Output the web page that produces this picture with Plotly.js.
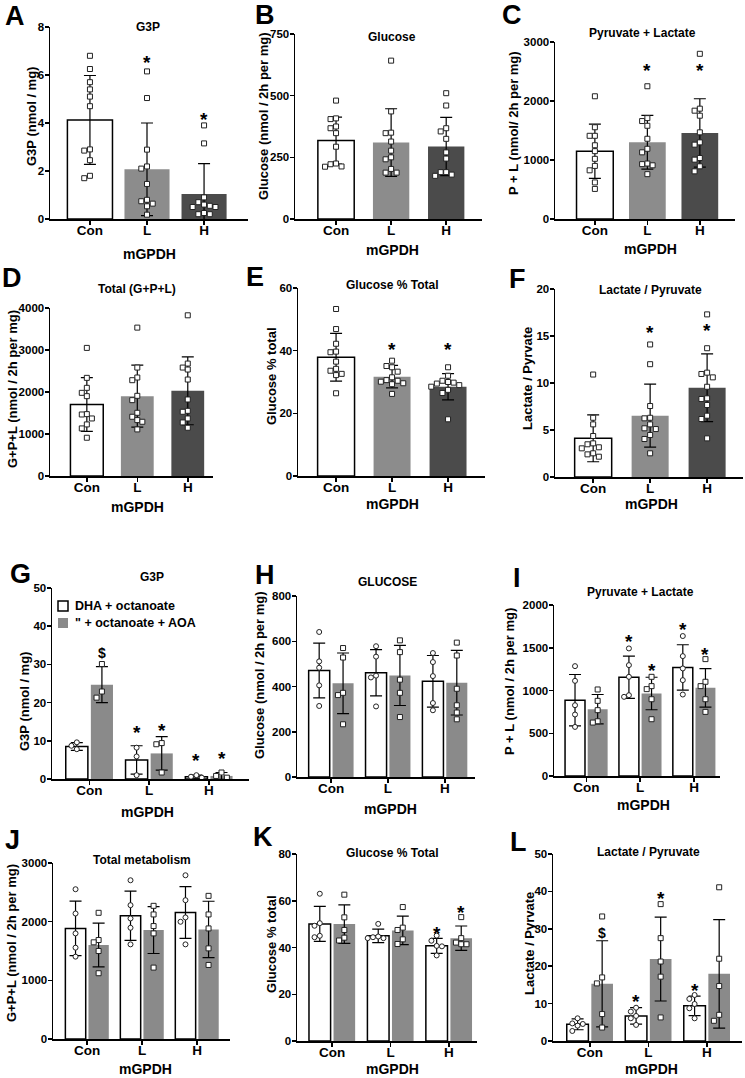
<!DOCTYPE html>
<html>
<head>
<meta charset="utf-8">
<script src="https://cdn.plot.ly/plotly-3.0.1.min.js"></script>
<style>body{margin:0;background:#fff}#graph{width:745px;height:1078px}</style>
</head>
<body>
<div id="graph"></div>
<script>
// groups on every x axis
const groups = ['Con', 'L', 'H'];

// ---- top half: one bar per group, mean +/- SD with individual points ----
// A  G3P
const aMean = [4.13, 2.07, 1.04];
const aSD = [1.85, 1.93, 1.27];
const aPts = [
  [6.8, 6.25, 5.7, 5.4, 5.1, 4.7, 2.9, 2.85, 2.45, 1.8, 1.7],
  [6.15, 5.04, 2.89, 2.19, 2.1, 1.46, 0.8, 0.74, 0.64, 0.53, 0.18],
  [3.9, 3.15, 0.9, 0.7, 0.6, 0.55, 0.5, 0.5, 0.25, 0.2, 0.2]
];
const aStars = [null, 6.7, 4.3];

// B  Glucose
const bMean = [318, 310, 294];
const bSD = [95, 137, 118];
const bPts = [
  [480, 408, 405, 375, 368, 348, 293, 225, 222, 213, 212],
  [642, 436, 350, 348, 314, 277, 250, 242, 203, 188, 188],
  [510, 460, 368, 355, 325, 270, 245, 190, 190, 180, 175]
];
const bStars = [null, null, null];

// C  Pyruvate + Lactate
const cMean = [1147, 1300, 1458];
const cSD = [460, 455, 580];
const cPts = [
  [2080, 1555, 1410, 1410, 1250, 1150, 1020, 900, 825, 620, 510],
  [2250, 1710, 1660, 1580, 1360, 1190, 1130, 940, 930, 910, 760],
  [2800, 1870, 1836, 1751, 1469, 1299, 1260, 1034, 1006, 893, 808]
];
const cStars = [null, 2588, 2588];

// D  Total (G+P+L)
const dMean = [1703, 1901, 2028];
const dSD = [640, 737, 808];
const dPts = [
  [3050, 2337, 2099, 1980, 1901, 1473, 1465, 1370, 1228, 1133, 911],
  [3533, 2582, 2345, 2281, 1909, 1806, 1505, 1410, 1331, 1291, 1109],
  [3826, 2677, 2582, 2535, 2297, 1822, 1552, 1529, 1370, 1275, 1149]
];
const dStars = [null, null, null];

// E  Glucose % Total
const eMean = [37.9, 31.7, 28.5];
const eSD = [7.6, 3.6, 4.2];
const ePts = [
  [53.3, 46.9, 42.2, 39.7, 39.5, 36.5, 34.2, 33.6, 32.6, 32.2, 26.4],
  [36.8, 35.1, 34.7, 33.3, 31.5, 30.6, 30.4, 30.1, 29.6, 29.3, 26.2],
  [34.7, 32.0, 30.4, 30.0, 29.8, 29.5, 29.0, 28.5, 27.5, 26.5, 18.1]
];
const eStars = [null, 41.6, 41.6];

// F  Lactate / Pyruvate
const fMean = [4.11, 6.52, 9.5];
const fSD = [2.49, 3.35, 3.6];
const fPts = [
  [10.9, 6.3, 5.6, 4.36, 3.58, 3.48, 3.16, 3.05, 2.52, 2.41, 2.16],
  [14.1, 12.0, 7.55, 6.3, 6.24, 5.6, 5.18, 5.1, 4.47, 4.04, 2.52],
  [17.3, 13.7, 11.1, 10.96, 10.6, 9.6, 8.37, 8.3, 7.66, 6.52, 6.17, 4.11]
];
const fStars = [null, 15.8, 16.0];

// ---- bottom half: DHA + octanoate (white) vs " + octanoate + AOA (grey) ----
const seriesNames = ['DHA + octanoate', '" + octanoate + AOA'];

// G  G3P
const gWhiteMean = [8.5, 5.0, 0.6];
const gWhiteSD = [1.0, 3.7, 0.4];
const gGreyMean = [24.7, 6.7, 0.8];
const gGreySD = [4.7, 4.4, 0.9];
const gWhitePts = [[9.6, 8.7, 7.8], [8.2, 5.9, 1.0], [1.0, 0.6, 0.35]];
const gGreyPts = [[30.1, 22.9, 21.3], [9.4, 9.1, 1.7], [1.7, 0.8, 0.35]];
const gWhiteMarks = [null, ['*', 13.3], ['*', 5.9]];
const gGreyMarks = [['$', 33], ['*', 13.7], ['*', 6.3]];

// H  GLUCOSE
const hWhiteMean = [471, 461, 423];
const hWhiteSD = [121, 102, 114];
const hGreyMean = [414, 449, 417];
const hGreySD = [134, 133, 143];
const hWhitePts = [[641, 511, 483, 405, 314], [578, 532, 448, 440, 312], [548, 508, 446, 327, 295]];
const hGreyPts = [[570, 528, 372, 362, 233], [604, 552, 430, 372, 265], [594, 537, 390, 317, 285, 255]];
const hWhiteMarks = [null, null, null];
const hGreyMarks = [null, null, null];

// I  Pyruvate + Lactate
const iWhiteMean = [887, 1156, 1270];
const iWhiteSD = [300, 247, 265];
const iGreyMean = [781, 965, 1031];
const iGreySD = [172, 190, 225];
const iWhitePts = [[1285, 1113, 828, 719, 574], [1492, 1297, 1160, 945, 926], [1637, 1402, 1258, 1121, 953]];
const iGreyPts = [[1012, 879, 770, 640, 625], [1160, 1051, 1016, 898, 664], [1367, 1102, 1051, 898, 750]];
const iWhiteMarks = [null, ['*', 1617], ['*', 1758]];
const iGreyMarks = [null, ['*', 1285], ['*', 1473]];

// J  Total metabolism
const jWhiteMean = [1885, 2100, 2156];
const jWhiteSD = [464, 420, 440];
const jGreyMean = [1602, 1857, 1868];
const jGreySD = [372, 400, 480];
const jWhitePts = [[2553, 2139, 1800, 1557, 1404], [2706, 2281, 2055, 1896, 1613], [2791, 2366, 2072, 1998, 1613]];
const jGreyPts = [[2151, 1687, 1648, 1500, 1121], [2270, 2123, 1925, 1800, 1217], [2440, 2123, 1885, 1545, 1262]];
const jWhiteMarks = [null, null, null];
const jGreyMarks = [null, null, null];

// K  Glucose % Total
const kWhiteMean = [50.1, 45.0, 40.7];
const kWhiteSD = [7.5, 2.9, 3.2];
const kGreyMean = [50.0, 47.3, 44.0];
const kGreySD = [8.2, 6.1, 5.2];
const kWhitePts = [[63, 50.4, 49.3, 45, 44.4], [50.1, 44.7, 44.4, 44, 44], [45.1, 42.9, 40.7, 40.5, 36.6]];
const kGreyPts = [[62.6, 52.9, 47.5, 44.2, 43.0], [57.3, 48.5, 47.5, 43.5, 41.5], [53, 44, 42.1, 41.4, 41.4]];
const kWhiteMarks = [null, null, ['*', 47.6]];
const kGreyMarks = [null, null, ['*', 56.9]];

// L  Lactate / Pyruvate
const lWhiteMean = [4.46, 6.7, 9.4];
const lWhiteSD = [1.45, 2.2, 2.6];
const lGreyMean = [15.3, 21.9, 17.95];
const lGreySD = [11.5, 11.2, 14.5];
const lWhitePts = [[6.07, 4.7, 4.55, 4.1, 2.68], [8.9, 7.86, 6.7, 6.07, 4.3], [12.3, 11.25, 9.9, 8.75, 6.07]];
const lGreyPts = [[33.3, 17, 15.4, 7.2, 3.6], [36.6, 27.5, 21.25, 17.2, 6.3], [41.1, 22, 14.7, 7, 5.4]];
const lWhiteMarks = [null, ['*', 11.6], ['*', 14.55]];
const lGreyMarks = [['$', 28.8], ['*', 39.3], null];

// ---------------------------------------------------------------------------
const W = 745, H = 1078;
const FONT = 'Liberation Sans, Arial, sans-serif';
const topColors = ['#ffffff', '#8c8c8c', '#4b4b4b'];
const GREY = '#8a8a8a';

const traces = [];
const annotations = [];
const shapes = [];
const layout = {
  width: W, height: H,
  margin: {l: 0, r: 0, t: 0, b: 0},
  paper_bgcolor: '#fff', plot_bgcolor: 'rgba(0,0,0,0)',
  showlegend: false,
  barmode: 'overlay',
  font: {family: FONT, color: '#000'},
  annotations: annotations,
  shapes: shapes
};

function txt(text, x, y, size, extra) {
  annotations.push(Object.assign({
    text: text, x: x / W, y: 1 - y / H, xref: 'paper', yref: 'paper',
    showarrow: false, xanchor: 'center', yanchor: 'middle',
    font: {family: FONT, size: size, color: '#000', weight: 700}
  }, extra || {}));
}

// spread points sideways so they don't sit on top of each other
function swarm(vals, span, step) {
  const placed = [];
  const tol = span * 0.032;
  return vals.map(v => {
    let off = 0;
    for (let k = 0; k < 15; k++) {
      off = (k % 2 ? -1 : 1) * Math.ceil(k / 2) * step;
      const hit = placed.some(p => Math.abs(p.v - v) < tol && Math.abs(p.o - off) < step * 0.9);
      if (!hit) break;
    }
    placed.push({v: v, o: off});
    return off;
  });
}

function makeAxes(n, p) {
  const s = n === 1 ? '' : String(n);
  layout['xaxis' + s] = {
    domain: [p.box[0] / W, p.box[1] / W], range: p.xr, anchor: 'y' + s,
    tickmode: 'array', tickvals: [0, 1, 2], ticktext: groups,
    showline: true, linecolor: '#000', linewidth: 1.5, ticks: 'outside', ticklen: 4,
    tickwidth: 1.5, tickcolor: '#000', showgrid: false, zeroline: false,
    ticklabelstandoff: -6,
    tickfont: {family: FONT, size: 13.5, color: '#000', weight: 700}
  };
  layout['yaxis' + s] = {
    domain: [1 - p.box[3] / H, 1 - p.box[2] / H], range: p.yr, anchor: 'x' + s,
    tick0: 0, dtick: p.dt,
    showline: true, linecolor: '#000', linewidth: 1.5, ticks: 'outside', ticklen: 4,
    tickwidth: 1.5, tickcolor: '#000', showgrid: false, zeroline: false,
    ticklabelstandoff: -2,
    tickfont: {family: FONT, size: 11.5, color: '#000', weight: 700}
  };
  txt(p.tag, p.lpos[0], p.lpos[1], 27);
  txt(p.title, p.tpos[0], p.tpos[1], 12);
  txt(p.ytitle, p.ypos[0], p.ypos[1], 13, {textangle: -90});
  txt('mGPDH', p.xl[0], p.xl[1], 14);
  return {x: 'x' + s, y: 'y' + s};
}

function addMark(ax, x, y, sym) {
  annotations.push({
    text: sym, x: x, y: y, xref: ax.x, yref: ax.y, showarrow: false,
    yanchor: 'middle', yshift: sym === '*' ? -4 : 0,
    font: {family: FONT, size: sym === '*' ? 19 : 14, color: '#000', weight: 700}
  });
}

function singlePanel(n, p, mean, sd, pts, stars) {
  const ax = makeAxes(n, p);
  traces.push({
    type: 'bar', x: [0, 1, 2], y: mean, width: p.w, xaxis: ax.x, yaxis: ax.y,
    marker: {color: topColors, line: {color: '#000', width: [1.5, 0, 0]}},
    error_y: {type: 'data', array: sd, visible: true, color: '#000', thickness: 1.2, width: 6},
    hoverinfo: 'skip'
  });
  const span = p.yr[1] - p.yr[0];
  pts.forEach((vals, g) => {
    const offs = swarm(vals, span, 0.1);
    traces.push({
      type: 'scatter', mode: 'markers', xaxis: ax.x, yaxis: ax.y,
      x: vals.map((v, i) => g + offs[i]), y: vals,
      marker: {symbol: 'square', size: 5, color: '#fff', line: {color: '#222', width: 1}},
      hoverinfo: 'skip'
    });
  });
  stars.forEach((s, g) => { if (s !== null) addMark(ax, g, s, '*'); });
}

function pairPanel(n, p, wm, wsd, gm, gsd, wpts, gpts, wmarks, gmarks) {
  const ax = makeAxes(n, p);
  const off = 0.21, bw = 0.37;
  const xs = [0, 1, 2];
  traces.push({
    type: 'bar', x: xs.map(v => v - off), y: wm, width: bw, xaxis: ax.x, yaxis: ax.y,
    marker: {color: '#fff', line: {color: '#000', width: 1.5}},
    error_y: {type: 'data', array: wsd, visible: true, color: '#000', thickness: 1.2, width: 6},
    hoverinfo: 'skip'
  });
  traces.push({
    type: 'bar', x: xs.map(v => v + off), y: gm, width: bw, xaxis: ax.x, yaxis: ax.y,
    marker: {color: GREY, line: {width: 0}},
    error_y: {type: 'data', array: gsd, visible: true, color: '#000', thickness: 1.2, width: 6},
    hoverinfo: 'skip'
  });
  const span = p.yr[1] - p.yr[0];
  [[wpts, -off, 'circle'], [gpts, off, 'square']].forEach(([set, o, sym]) => {
    set.forEach((vals, g) => {
      const offs = swarm(vals, span, 0.09);
      traces.push({
        type: 'scatter', mode: 'markers', xaxis: ax.x, yaxis: ax.y,
        x: vals.map((v, i) => g + o + offs[i]), y: vals,
        marker: {symbol: sym, size: 5, color: '#fff', line: {color: '#222', width: 1}},
        hoverinfo: 'skip'
      });
    });
  });
  wmarks.forEach((m, g) => { if (m) addMark(ax, g - off, m[1], m[0]); });
  gmarks.forEach((m, g) => { if (m) addMark(ax, g + off, m[1], m[0]); });
}

// panel placement (pixels): box = [left, right, top, bottom] of the plot area
singlePanel(1, {tag: 'A', box: [50, 248, 27, 219], xr: [-0.7, 2.77], yr: [0, 8], dt: 2, w: 0.79,
  title: 'G3P', tpos: [148, 27], ytitle: 'G3P (nmol / mg)', ypos: [32, 117], lpos: [15, 16], xl: [149, 254]},
  aMean, aSD, aPts, aStars);
singlePanel(2, {tag: 'B', box: [295, 482, 34, 219], xr: [-0.745, 2.65], yr: [0, 750], dt: 250, w: 0.66,
  title: 'Glucose', tpos: [392, 37], ytitle: 'Glucose (nmol / 2h per mg)', ypos: [264, 116], lpos: [265, 15], xl: [392, 250]},
  bMean, bSD, bPts, bStars);
singlePanel(3, {tag: 'C', box: [555, 735, 42, 219], xr: [-0.76, 2.67], yr: [0, 3000], dt: 1000, w: 0.7,
  title: 'Pyruvate + Lactate', tpos: [642, 33], ytitle: 'P + L (nmol/ 2h per mg)', ypos: [513, 123], lpos: [512, 15], xl: [650, 249]},
  cMean, cSD, cPts, cStars);
singlePanel(4, {tag: 'D', box: [50, 213, 308, 476], xr: [-0.73, 2.5], yr: [0, 4000], dt: 1000, w: 0.65,
  title: 'Total (G+P+L)', tpos: [137, 289], ytitle: 'G+P+L (nmol / 2h per mg)', ypos: [12, 389], lpos: [12, 278], xl: [137, 507]},
  dMean, dSD, dPts, dStars);
singlePanel(5, {tag: 'E', box: [298, 485, 288, 476], xr: [-0.68, 2.66], yr: [0, 60], dt: 20, w: 0.66,
  title: 'Glucose % Total', tpos: [392, 285], ytitle: 'Glucose % total', ypos: [272, 376], lpos: [255, 277], xl: [392, 504]},
  eMean, eSD, ePts, eStars);
singlePanel(6, {tag: 'F', box: [555, 743, 289, 477], xr: [-0.67, 2.63], yr: [0, 20], dt: 5, w: 0.65,
  title: 'Lactate / Pyruvate', tpos: [650, 290], ytitle: 'Lactate / Pyrvate', ypos: [527, 379], lpos: [517, 279], xl: [651, 504]},
  fMean, fSD, fPts, fStars);

pairPanel(7, {tag: 'G', box: [52, 249, 588, 779], xr: [-0.625, 2.67], yr: [0, 50], dt: 10,
  title: 'G3P', tpos: [152, 577], ytitle: 'G3P (nmol / mg)', ypos: [24, 702], lpos: [20, 574], xl: [147, 812]},
  gWhiteMean, gWhiteSD, gGreyMean, gGreySD, gWhitePts, gGreyPts, gWhiteMarks, gGreyMarks);
pairPanel(8, {tag: 'H', box: [297, 475, 596, 777], xr: [-0.6, 2.53], yr: [0, 800], dt: 200,
  title: 'GLUCOSE', tpos: [388, 582], ytitle: 'Glucose (nmol / 2h per mg)', ypos: [259, 675], lpos: [265, 575], xl: [390, 809]},
  hWhiteMean, hWhiteSD, hGreyMean, hGreySD, hWhitePts, hGreyPts, hWhiteMarks, hGreyMarks);
pairPanel(9, {tag: 'I', box: [554, 720, 605, 776], xr: [-0.6, 2.48], yr: [0, 2000], dt: 500,
  title: 'Pyruvate + Lactate', tpos: [640, 592], ytitle: 'P + L (nmol / 2h per mg)', ypos: [509, 682], lpos: [517, 578], xl: [643, 805]},
  iWhiteMean, iWhiteSD, iGreyMean, iGreySD, iWhitePts, iGreyPts, iWhiteMarks, iGreyMarks);
pairPanel(10, {tag: 'J', box: [53, 230, 863, 1039], xr: [-0.62, 2.6], yr: [0, 3000], dt: 1000,
  title: 'Total metabolism', tpos: [142, 860], ytitle: 'G+P+L (nmol / 2h per mg)', ypos: [11, 943], lpos: [12, 840], xl: [145, 1069]},
  jWhiteMean, jWhiteSD, jGreyMean, jGreySD, jWhitePts, jGreyPts, jWhiteMarks, jGreyMarks);
pairPanel(11, {tag: 'K', box: [297, 477, 854, 1041], xr: [-0.6, 2.48], yr: [0, 80], dt: 20,
  title: 'Glucose % Total', tpos: [392, 853], ytitle: 'Glucose % total', ypos: [271, 944], lpos: [263, 837], xl: [392, 1069]},
  kWhiteMean, kWhiteSD, kGreyMean, kGreySD, kWhitePts, kGreyPts, kWhiteMarks, kGreyMarks);
pairPanel(12, {tag: 'L', box: [553, 742, 854, 1041], xr: [-0.63, 2.6], yr: [0, 50], dt: 10,
  title: 'Lactate / Pyruvate', tpos: [648, 852], ytitle: 'Lactate / Pyrvate', ypos: [529, 944], lpos: [518, 842], xl: [651, 1069]},
  lWhiteMean, lWhiteSD, lGreyMean, lGreySD, lWhitePts, lGreyPts, lWhiteMarks, lGreyMarks);

// legend of panel G
const legendRows = [[606, '#fff', 1.5], [623, GREY, 0]];
legendRows.forEach(([cy, fill, lw], i) => {
  shapes.push({type: 'rect', xref: 'paper', yref: 'paper',
    x0: 58 / W, x1: 68 / W, y0: 1 - (cy + 5) / H, y1: 1 - (cy - 5) / H,
    fillcolor: fill, line: {color: '#000', width: lw}});
  txt(seriesNames[i], 73, cy, 12.5, {xanchor: 'left'});
});

Plotly.newPlot('graph', traces, layout, {staticPlot: true});
</script>
</body>
</html>
